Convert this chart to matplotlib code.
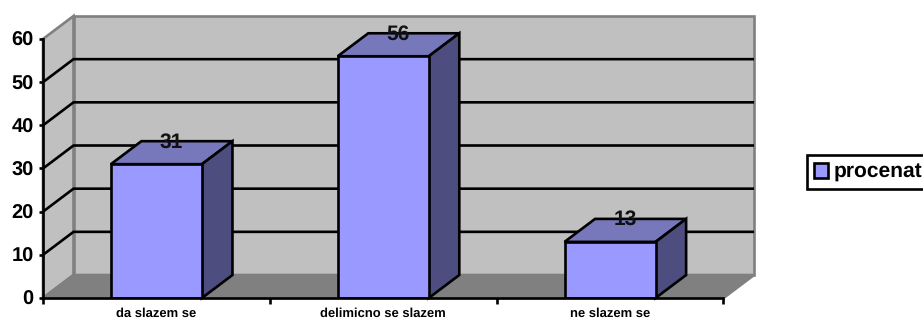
import matplotlib
matplotlib.use("Agg")
import matplotlib.pyplot as plt
from matplotlib.patches import Patch, Polygon

categories = ["da slazem se", "delimicno se slazem", "ne slazem se"]
values = [31, 56, 13]
y_ticks = [0, 10, 20, 30, 40, 50, 60]
series_name = "procenat"

W, H = 923, 320
# depth of the fake 3d box, in data units
DX = 30.5 / 226.67
DY = 23 / 4.32
BAR_W = 91 / 226.67

FRONT = "#9999ff"
TOP = "#7777bb"
SIDE = "#4d4d80"
WALL = "#c0c0c0"
FLOOR = "#808080"
LW = 1.9

plt.rcParams["font.family"] = ["Liberation Sans", "DejaVu Sans"]
plt.rcParams["font.weight"] = "bold"
plt.rcParams["text.hinting"] = "no_hinting"
plt.rcParams["text.hinting_factor"] = 1

fig = plt.figure(figsize=(W / 100, H / 100), dpi=100)
ax = fig.add_axes([43 / W, (H - 298) / H, 711 / W, 282 / H])
ax.set_xlim(0, 3 + DX)
ax.set_ylim(0, 60 + DY)
ax.patch.set_visible(False)


def poly(points, face, edge, lw=LW, z=1):
    ax.add_patch(Polygon(points, closed=True, facecolor=face, edgecolor=edge,
                         linewidth=lw, zorder=z, clip_on=False))


# walls and floor
poly([(DX, DY), (3 + DX, DY), (3 + DX, 60 + DY), (DX, 60 + DY)], WALL, FLOOR)
poly([(0, 0), (DX, DY), (DX, 60 + DY), (0, 60)], WALL, FLOOR)
poly([(0, 0), (3, 0), (3 + DX, DY), (DX, DY)], FLOOR, FLOOR)

# gridlines run along the side wall and then the back wall
for tick in y_ticks[1:-1]:
    ax.plot([0, DX, 3 + DX], [tick, tick + DY, tick + DY], color="black", lw=LW,
            zorder=2, solid_capstyle="butt", solid_joinstyle="miter")

# bars with their top and side faces
centers = [i + 0.5 for i in range(len(categories))]
ax.bar(centers, values, width=BAR_W, color=FRONT, edgecolor="black", linewidth=LW, zorder=4)
for c, v in zip(centers, values):
    left, right = c - BAR_W / 2, c + BAR_W / 2
    poly([(left, v), (right, v), (right + DX, v + DY), (left + DX, v + DY)], TOP, "black", z=3)
    poly([(right, 0), (right + DX, DY), (right + DX, v + DY), (right, v)], SIDE, "black", z=3)
    ax.text(c + DX / 2, v + DY - 0.2, str(v), ha="center", va="center", fontsize=15,
            color="#111111", zorder=5)

# axes
for side in ["top", "right"]:
    ax.spines[side].set_visible(False)
ax.spines["left"].set_bounds(0, 60)
ax.spines["bottom"].set_bounds(0, 3)
ax.spines["left"].set_linewidth(LW)
ax.spines["bottom"].set_linewidth(LW)
ax.spines["left"].set_zorder(6)
ax.spines["bottom"].set_zorder(6)

ax.set_yticks(y_ticks)
ax.set_yticklabels([str(t) for t in y_ticks], fontsize=14.5)
ax.tick_params(axis="y", length=3, width=LW, pad=3.8)
ax.set_xticks(range(len(categories) + 1))
ax.set_xticklabels([])
ax.tick_params(axis="x", which="major", length=4, width=LW)
ax.set_xticks(centers, minor=True)
ax.set_xticklabels(categories, minor=True, fontsize=9.6)
ax.tick_params(axis="x", which="minor", length=0, pad=7)

# legend
leg = fig.legend(handles=[Patch(facecolor=FRONT, edgecolor="black", linewidth=LW, label=series_name)],
                 loc="upper left", bbox_to_anchor=(806.5 / W, (H - 155) / H), borderaxespad=0,
                 fontsize=14.8, fancybox=False, framealpha=1, edgecolor="black",
                 handlelength=0.7, handleheight=0.7, handletextpad=0.28, borderpad=0.36)
leg.get_frame().set_linewidth(LW)

fig.savefig("out.png", dpi=100)
